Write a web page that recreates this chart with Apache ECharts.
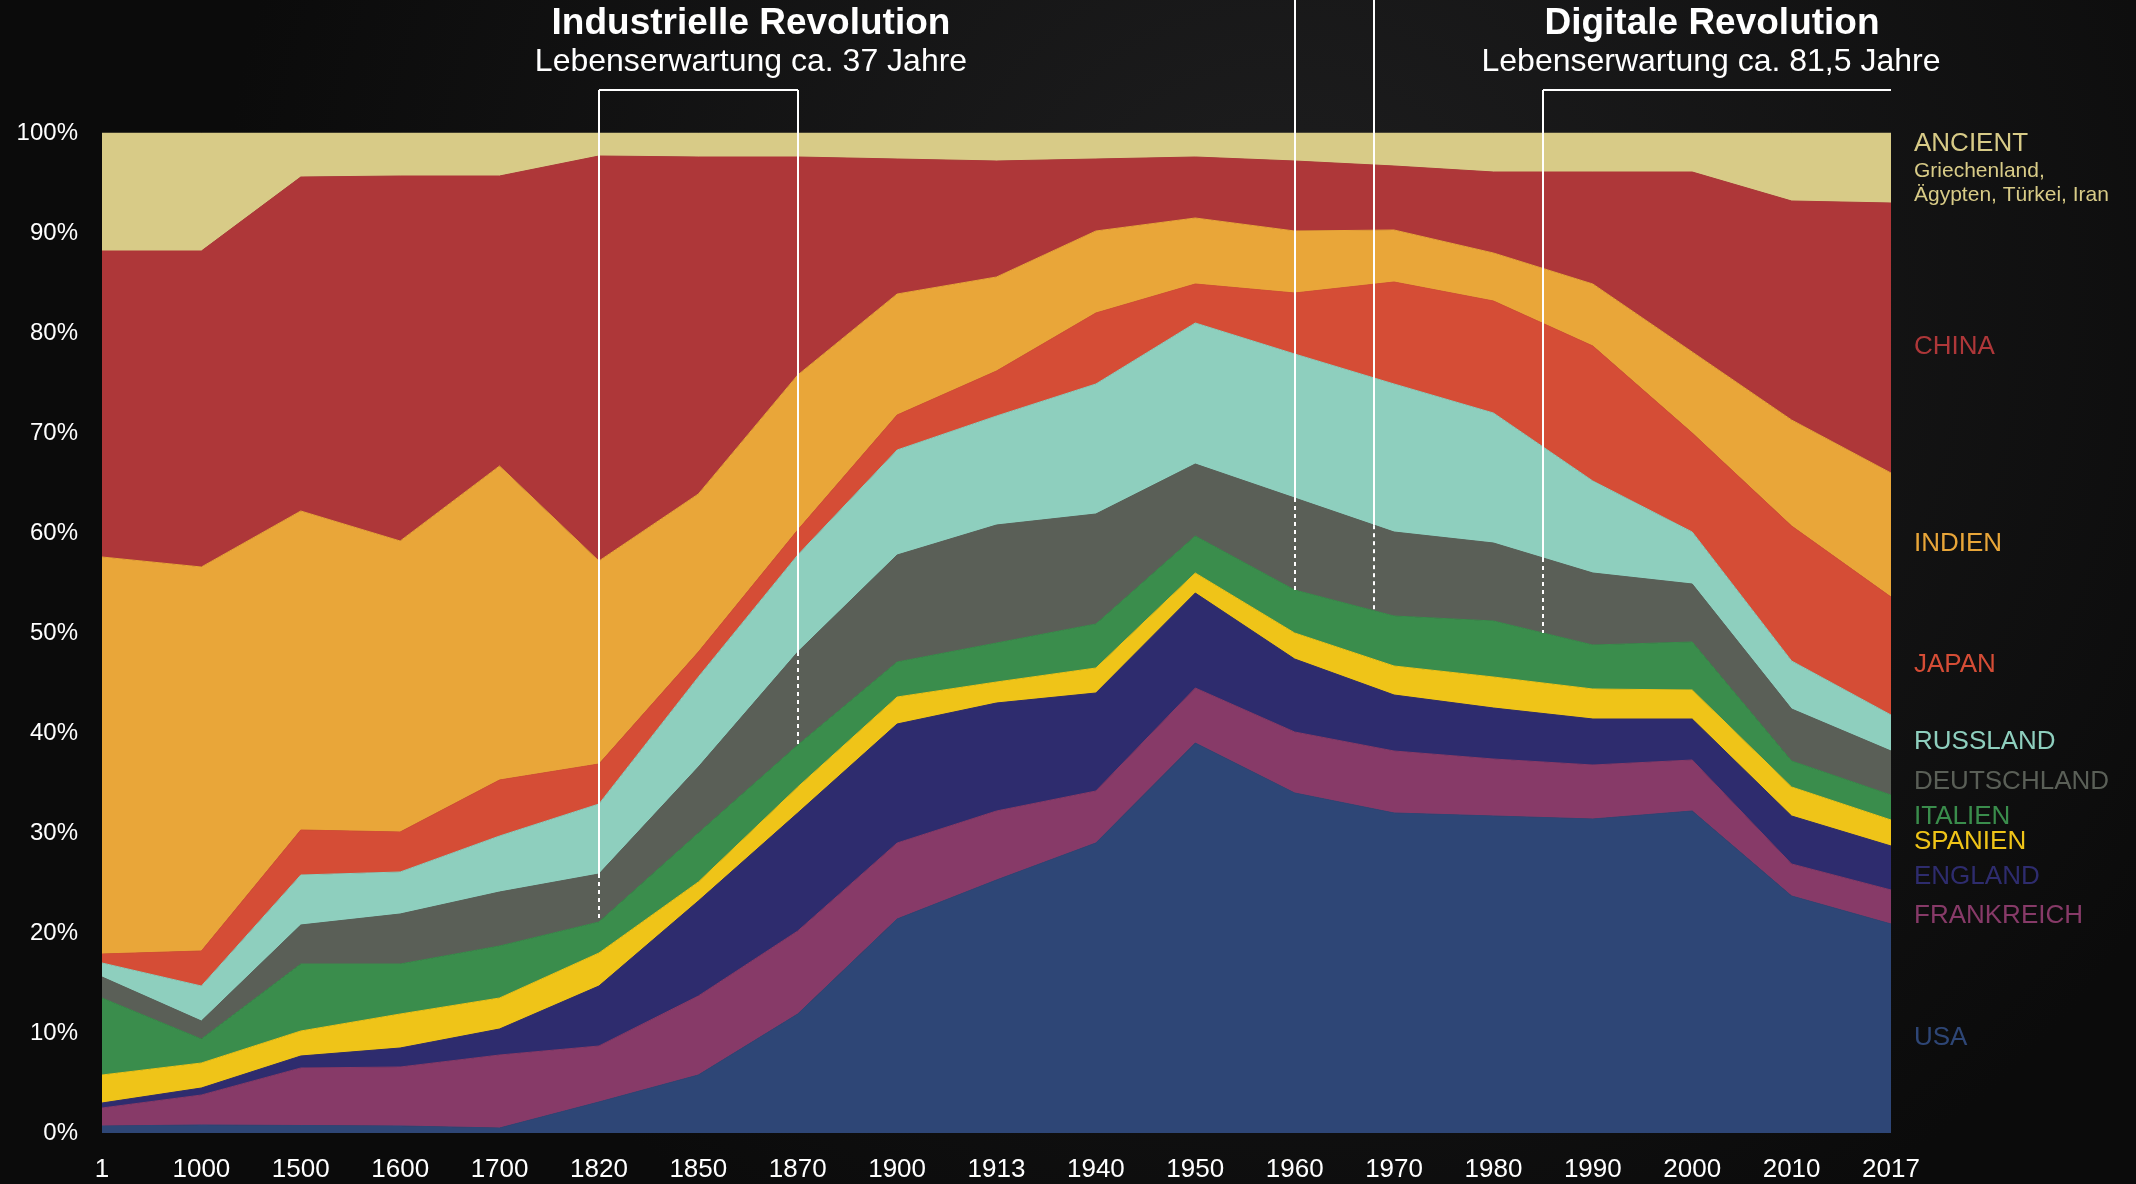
<!DOCTYPE html>
<html>
<head>
<meta charset="utf-8">
<title>Anteil an der Weltwirtschaft</title>
<script src="https://cdn.jsdelivr.net/npm/echarts@6/dist/echarts.min.js"></script>
<style>
html,body{margin:0;padding:0;background:#111;}
#main{width:2136px;height:1184px;}
</style>
</head>
<body>
<div id="main"></div>
<script>
var jahre = ['1','1000','1500','1600','1700','1820','1850','1870','1900','1913','1940','1950','1960','1970','1980','1990','2000','2010','2017'];

// Anteile in %, von unten nach oben gestapelt
var usa         = [0.7, 0.8, 0.75, 0.7, 0.5, 3.1, 5.8, 11.9, 21.4, 25.3, 29.0, 39.0, 34.0, 32.0, 31.7, 31.4, 32.2, 23.7, 20.9];
var frankreich  = [1.8, 3.0, 5.75, 5.9, 7.3, 5.6, 7.9, 8.3, 7.6, 6.9, 5.2, 5.5, 6.1, 6.2, 5.7, 5.4, 5.1, 3.2, 3.4];
var england     = [0.5, 0.7, 1.2, 1.9, 2.6, 6.0, 9.5, 11.8, 11.9, 10.8, 9.8, 9.5, 7.3, 5.6, 5.1, 4.6, 4.1, 4.8, 4.4];
var spanien     = [2.8, 2.5, 2.5, 3.4, 3.1, 3.3, 1.9, 2.6, 2.7, 2.1, 2.5, 2.0, 2.6, 2.9, 3.1, 3.0, 2.9, 2.9, 2.6];
var italien     = [7.7, 2.4, 6.7, 5.0, 5.2, 3.1, 4.9, 4.2, 3.5, 3.9, 4.4, 3.7, 4.3, 5.0, 5.6, 4.4, 4.8, 2.6, 2.5];
var deutschland = [2.1, 1.8, 3.9, 5.0, 5.4, 4.8, 6.6, 9.3, 10.7, 11.8, 11.0, 7.2, 9.2, 8.4, 7.8, 7.2, 5.8, 5.2, 4.4];
var russland    = [1.4, 3.5, 5.0, 4.2, 5.6, 7.0, 9.0, 9.7, 10.5, 10.9, 13.0, 14.1, 14.4, 14.8, 13.0, 9.2, 5.2, 4.8, 3.6];
var japan       = [0.9, 3.5, 4.5, 4.0, 5.6, 4.0, 2.5, 2.5, 3.5, 4.5, 7.1, 3.9, 6.1, 10.2, 11.2, 13.5, 9.9, 13.5, 11.8];
var indien      = [39.7, 38.4, 31.9, 29.1, 31.4, 20.3, 15.8, 15.5, 12.1, 9.4, 8.2, 6.6, 6.2, 5.2, 4.8, 6.2, 8.1, 10.6, 12.4];
var china       = [30.6, 31.6, 33.4, 36.5, 29.0, 40.5, 33.7, 21.8, 13.5, 11.6, 7.2, 6.1, 7.0, 6.4, 8.1, 11.2, 18.0, 21.9, 27.0];
var ancient     = [11.8, 11.8, 4.4, 4.3, 4.3, 2.3, 2.4, 2.4, 2.6, 2.8, 2.6, 2.4, 2.8, 3.3, 3.9, 3.9, 3.9, 6.8, 7.0];

var laender = ['USA','FRANKREICH','ENGLAND','SPANIEN','ITALIEN','DEUTSCHLAND','RUSSLAND','JAPAN','INDIEN','CHINA','ANCIENT'];
var werte = [usa, frankreich, england, spanien, italien, deutschland, russland, japan, indien, china, ancient];
var farben = ['#2e4676','#873a68','#2e2c6e','#efc418','#3a8d4c','#5a5f57','#8ecfbe','#d54d36','#e9a639','#ae3739','#d8cb87'];

// Markierungen als Kategorie-Index
var industrieIdx = [5, 7];
var digitalIdx = [12, 12.8, 14.5];

var schrift = '"Liberation Sans", Arial, sans-serif';

var chart = echarts.init(document.getElementById('main'));

var series = [];
for (var i = 0; i < laender.length; i++) {
    series.push({
        name: laender[i],
        type: 'line',
        stack: 'anteil',
        data: werte[i],
        symbol: 'none',
        smooth: false,
        silent: true,
        lineStyle: {width: 1, color: farben[i]},
        itemStyle: {color: farben[i]},
        areaStyle: {color: farben[i], opacity: 1}
    });
}

var option = {
    animation: false,
    backgroundColor: {
        type: 'radial', x: 0.6, y: 0.25, r: 0.9,
        colorStops: [{offset: 0, color: '#1e1e1f'}, {offset: 1, color: '#0b0b0b'}]
    },
    grid: {left: 102, right: 245, top: 133, bottom: 51},
    xAxis: {
        type: 'category',
        boundaryGap: false,
        data: jahre,
        axisLine: {show: false},
        axisTick: {show: false},
        axisLabel: {interval: 0, color: '#ffffff', fontSize: 26, margin: 24, fontFamily: schrift}
    },
    yAxis: {
        type: 'value',
        min: 0,
        max: 100,
        interval: 10,
        splitLine: {show: false},
        axisLine: {show: false},
        axisTick: {show: false},
        axisLabel: {formatter: '{value}%', color: '#ffffff', fontSize: 24, margin: 24, fontFamily: schrift}
    },
    series: series
};
chart.setOption(option);

function punkt(idx, wert) {
    var a = Math.floor(idx), b = Math.ceil(idx), t = idx - a;
    var pa = chart.convertToPixel({seriesIndex: 0}, [a, wert]);
    var pb = chart.convertToPixel({seriesIndex: 0}, [b, wert]);
    return [pa[0] + (pb[0] - pa[0]) * t, pa[1]];
}
function summe(idx, bis) {
    var a = Math.floor(idx), b = Math.ceil(idx), t = idx - a, sa = 0, sb = 0;
    for (var k = 0; k <= bis; k++) { sa += werte[k][a]; sb += werte[k][b]; }
    return sa + (sb - sa) * t;
}

var grafik = [];
function linie(x1, y1, x2, y2, punktiert) {
    grafik.push({
        type: 'line', z: 100, silent: true,
        shape: {x1: Math.round(x1), y1: y1, x2: Math.round(x2), y2: y2},
        style: {stroke: '#ffffff', lineWidth: 2, lineDash: punktiert ? [4, 4] : null}
    });
}
function text(x, y, str, size, weight, farbe, align) {
    grafik.push({
        type: 'text', z: 100, silent: true, x: x, y: y,
        style: {text: str, fill: farbe, fontSize: size, fontWeight: weight, fontFamily: schrift,
                textAlign: align, textVerticalAlign: 'middle'}
    });
}
// senkrechte Linie: durchgezogen bis Deutschland, gepunktet bis Italien
function marke(idx, oben) {
    var x = punkt(idx, 0)[0];
    var yDe = punkt(idx, summe(idx, 5))[1];
    var yIt = punkt(idx, summe(idx, 4))[1];
    linie(x, oben, x, yDe, false);
    linie(x, yDe, x, yIt, true);
    return x;
}

var xa = marke(industrieIdx[0], 90);
var xb = marke(industrieIdx[1], 90);
linie(xa, 90, xb, 90, false);

marke(digitalIdx[0], 0);
marke(digitalIdx[1], 0);
var xc = marke(digitalIdx[2], 90);
var xEnde = punkt(jahre.length - 1, 0)[0];
linie(xc, 90, xEnde, 90, false);

text(751, 24, 'Industrielle Revolution', 37, 'bold', '#ffffff', 'center');
text(751, 62, 'Lebenserwartung ca. 37 Jahre', 32, 'normal', '#ffffff', 'center');
text(1712, 24, 'Digitale Revolution', 37, 'bold', '#ffffff', 'center');
text(1711, 62, 'Lebenserwartung ca. 81,5 Jahre', 32, 'normal', '#ffffff', 'center');

// Beschriftung rechts neben dem letzten Wert
var letzter = jahre.length - 1;
for (var j = 0; j < laender.length - 1; j++) {
    var mitte = summe(letzter, j) - werte[j][letzter] / 2;
    text(1914, punkt(letzter, mitte)[1] + 9, laender[j], 26, 'normal', farben[j], 'left');
}
var yTop = punkt(letzter, 100)[1];
text(1914, yTop + 11, 'ANCIENT', 26, 'normal', farben[10], 'left');
text(1914, yTop + 38, 'Griechenland,', 21, 'normal', farben[10], 'left');
text(1914, yTop + 62, 'Ägypten, Türkei, Iran', 21, 'normal', farben[10], 'left');

chart.setOption({graphic: {elements: grafik}});
</script>
</body>
</html>
